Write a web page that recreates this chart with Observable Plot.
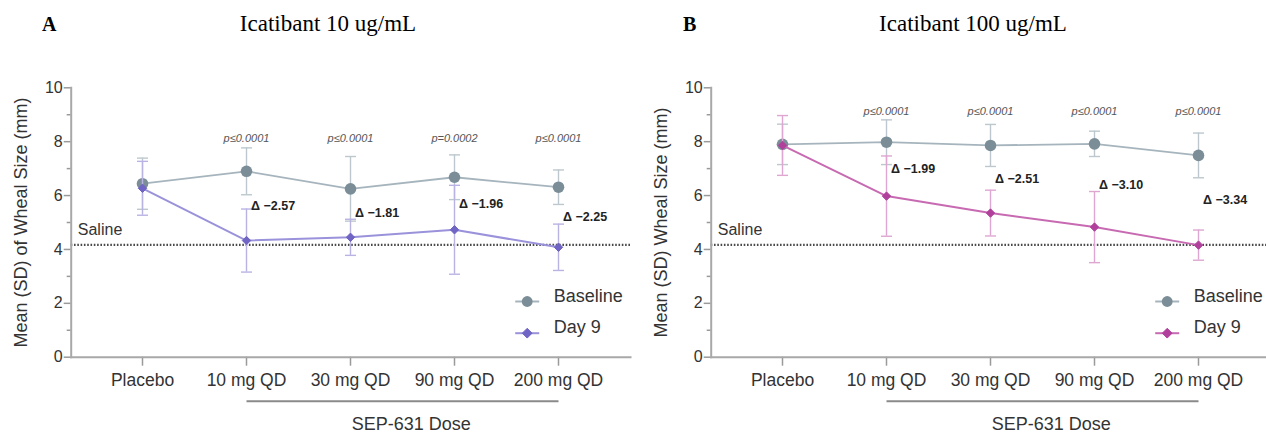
<!DOCTYPE html>
<html><head><meta charset="utf-8">
<script src="https://cdn.jsdelivr.net/npm/d3@7"></script>
<script src="https://cdn.jsdelivr.net/npm/@observablehq/plot@0.6"></script>
<style>
body{margin:0;background:#fff;}
#wrap{display:flex;width:1266px;height:433px;overflow:hidden;}
.panel{position:relative;width:640px;flex:0 0 640px;height:433px;}
.hdr{position:relative;height:50px;}
.letter{position:absolute;font-family:"Liberation Serif",serif;font-weight:bold;font-size:20px;line-height:20px;color:#000;}
.title{position:absolute;font-family:"Liberation Serif",serif;font-size:23px;line-height:23px;transform:translateX(-50%);white-space:nowrap;color:#000;}
svg{display:block;}
</style></head><body><div id="wrap"></div>
<script>
// ---- data ----
const doses = ["Placebo", "10 mg QD", "30 mg QD", "90 mg QD", "200 mg QD"];
const series = ["Baseline", "Day 9"];
const baselineA = [6.44, 6.90, 6.25, 6.68, 6.31];
const baselineSdA = [0.95, 0.87, 1.20, 0.83, 0.64];
const day9A = [6.27, 4.33, 4.45, 4.73, 4.08];
const day9SdA = [1.00, 1.17, 0.67, 1.65, 0.86];
const baselineB = [7.90, 7.98, 7.86, 7.92, 7.49];
const baselineSdB = [0.75, 0.83, 0.78, 0.47, 0.83];
const day9B = [7.86, 5.98, 5.35, 4.83, 4.16];
const day9SdB = [1.11, 1.49, 0.85, 1.32, 0.56];
const pLabelsA = ["", "p≤0.0001", "p≤0.0001", "p=0.0002", "p≤0.0001"];
const pLabelsB = ["", "p≤0.0001", "p≤0.0001", "p≤0.0001", "p≤0.0001"];
const deltasA = [null, -2.57, -1.81, -1.96, -2.25];
const deltasB = [null, -1.99, -2.51, -3.10, -3.34];
const salineLevel = 4.17;
const yTicks = [0, 2, 4, 6, 8, 10];
const yMinorTicks = [1, 3, 5, 7, 9];
const doseGroupLabel = "SEP-631 Dose";

const panels = [
  {letter: "A", title: "Icatibant 10 ug/mL", ylabel: "Mean (SD) of Wheal Size (mm)",
   base: baselineA, baseSd: baselineSdA, d9: day9A, d9Sd: day9SdA, p: pLabelsA, delta: deltasA, pY: 8,
   color: "#7064c4", lineColor: "#9a92da", errColor: "#b9b3e4", letterX: 42, titleX: 328},
  {letter: "B", title: "Icatibant 100 ug/mL", ylabel: "Mean (SD) Wheal Size (mm)",
   base: baselineB, baseSd: baselineSdB, d9: day9B, d9Sd: day9SdB, p: pLabelsB, delta: deltasB, pY: 9,
   color: "#b1409c", lineColor: "#c76ab2", errColor: "#dea6d1", letterX: 43, titleX: 333}
];

const gray = "#7b8e98", grayLine = "#a6b5bd", grayErr = "#bcc8ce";
const axisGray = "#a8a8a8", textCol = "#333";

// horizontal bar symbol (error bar caps, legend line)
const hbar = {draw(ctx, size) { const w = Math.sqrt(size / Math.PI); ctx.moveTo(-w, 0); ctx.lineTo(w, 0); }};

const wrap = document.getElementById("wrap");

panels.forEach(p => {
  const base = doses.map((d, i) => ({dose: d, mean: p.base[i], sd: p.baseSd[i]}));
  const d9 = doses.map((d, i) => ({dose: d, mean: p.d9[i], sd: p.d9Sd[i]}));
  const pRows = doses.map((d, i) => ({dose: d, label: p.p[i]})).filter(r => r.label);
  const dRows = doses.map((d, i) => ({dose: d, delta: p.delta[i], mid: (p.base[i] + p.d9[i]) / 2})).filter(r => r.delta != null);

  const legendDy = [-55.7, -24];
  const legendMarks = [];
  series.forEach((s, k) => {
    const col = k ? p.color : gray;
    const lcol = k ? p.lineColor : grayLine;
    legendMarks.push(Plot.dot([s], {x: null, y: null, frameAnchor: "bottom-right", dx: -103.3, dy: legendDy[k], symbol: hbar, r: 12, stroke: lcol, strokeWidth: 2, fill: "none"}));
    legendMarks.push(Plot.dot([s], {x: null, y: null, frameAnchor: "bottom-right", dx: -103.3, dy: legendDy[k], symbol: k ? "diamond2" : "circle", r: k ? 4.4 : 5.4, fill: col, stroke: k ? col : "none", strokeWidth: 1}));
    legendMarks.push(Plot.text([s], {x: null, y: null, frameAnchor: "bottom-right", dx: -76.7, dy: legendDy[k], text: d => d, textAnchor: "start", fontSize: 18, fill: textCol}));
  });

  const chart = Plot.plot({
    width: 640, height: 383,
    marginLeft: 70.7, marginRight: 10, marginTop: 37.3, marginBottom: 76.3,
    style: {fontFamily: "'Liberation Sans', Arial, sans-serif", background: "transparent", overflow: "visible"},
    x: {type: "point", domain: doses, padding: 0.686},
    y: {domain: [0, 10]},
    marks: [
      // saline reference
      Plot.ruleY([salineLevel], {stroke: "#4a4a4a", strokeWidth: 2.4, strokeDasharray: "1.6,1.7"}),
      Plot.text(["Saline"], {x: null, y: [salineLevel], frameAnchor: "left", dx: 6.6, dy: -10.3, lineAnchor: "bottom", textAnchor: "start", text: d => d, fontSize: 16, fill: textCol}),
      // axes
      Plot.axisY({ticks: yTicks, tickSize: 7, tickPadding: 1.5, fontSize: 16, stroke: "#9a9a9a", strokeWidth: 1.5, fill: textCol, label: null}),
      Plot.axisY({ticks: yMinorTicks, tickSize: 4, tickFormat: () => "", stroke: "#9a9a9a", strokeWidth: 1.5, label: null}),
      Plot.axisX({tickSize: 9, tickPadding: 7, fontSize: 17.5, stroke: "#9a9a9a", strokeWidth: 1.5, fill: textCol, label: null}),
      Plot.frame({anchor: "left", stroke: axisGray, strokeWidth: 2}),
      Plot.frame({anchor: "bottom", stroke: axisGray, strokeWidth: 2}),
      Plot.text([p.ylabel], {x: null, y: null, frameAnchor: "left", dx: -50.2, rotate: -90, textAnchor: "middle", lineAnchor: "middle", text: d => d, fontSize: 18, fill: textCol}),
      // dose group bracket
      Plot.link([doseGroupLabel], {x1: () => doses[1], x2: () => doses[4], y1: () => 0, y2: () => 0, dy: 44, stroke: "#8a8a8a", strokeWidth: 2}),
      Plot.text([doseGroupLabel], {x: () => doses[2], y: () => 0, dx: 60.7, dy: 72.6, lineAnchor: "bottom", text: d => d, fontSize: 18, fill: textCol}),
      // baseline
      Plot.ruleX(base, {x: "dose", y1: d => d.mean - d.sd, y2: d => d.mean + d.sd, stroke: grayErr, strokeWidth: 1.4}),
      Plot.dot(base, {x: "dose", y: d => d.mean + d.sd, symbol: hbar, r: 5.5, stroke: grayErr, strokeWidth: 1.4, fill: "none"}),
      Plot.dot(base, {x: "dose", y: d => d.mean - d.sd, symbol: hbar, r: 5.5, stroke: grayErr, strokeWidth: 1.4, fill: "none"}),
      Plot.line(base, {x: "dose", y: "mean", stroke: grayLine, strokeWidth: 1.8}),
      Plot.dot(base, {x: "dose", y: "mean", r: 5.8, fill: gray, stroke: "none"}),
      // day 9
      Plot.ruleX(d9, {x: "dose", y1: d => d.mean - d.sd, y2: d => d.mean + d.sd, stroke: p.errColor, strokeWidth: 1.4}),
      Plot.dot(d9, {x: "dose", y: d => d.mean + d.sd, symbol: hbar, r: 5.5, stroke: p.errColor, strokeWidth: 1.4, fill: "none"}),
      Plot.dot(d9, {x: "dose", y: d => d.mean - d.sd, symbol: hbar, r: 5.5, stroke: p.errColor, strokeWidth: 1.4, fill: "none"}),
      Plot.line(d9, {x: "dose", y: "mean", stroke: p.lineColor, strokeWidth: 2}),
      Plot.dot(d9, {x: "dose", y: "mean", symbol: "diamond2", r: 3.8, fill: p.color, stroke: p.color, strokeWidth: 1}),
      // annotations
      Plot.text(pRows, {x: "dose", y: () => p.pY, text: "label", lineAnchor: "bottom", fontStyle: "italic", fontSize: 11, fill: "#555"}),
      Plot.text(dRows, {x: "dose", y: "mid", text: d => "Δ −" + Math.abs(d.delta).toFixed(2), textAnchor: "start", dx: 4.5, fontWeight: "bold", fontSize: 12.5, fill: "#222"}),
      ...legendMarks
    ]
  });

  const panel = document.createElement("div");
  panel.className = "panel";
  const hdr = document.createElement("div");
  hdr.className = "hdr";
  const L = document.createElement("div");
  L.className = "letter"; L.textContent = p.letter;
  L.style.left = p.letterX + "px"; L.style.top = "14px";
  const T = document.createElement("div");
  T.className = "title"; T.textContent = p.title;
  T.style.left = p.titleX + "px"; T.style.top = "12.4px";
  hdr.append(L, T);
  panel.append(hdr, chart);
  wrap.append(panel);
});
</script>
</body></html>
